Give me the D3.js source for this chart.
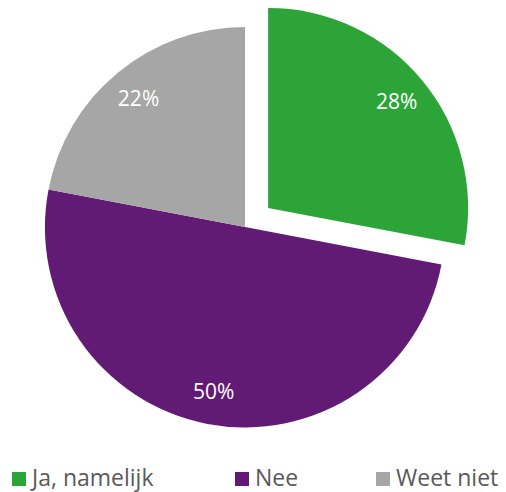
<!DOCTYPE html>
<html>
<head>
<meta charset="utf-8">
<script src="https://cdn.jsdelivr.net/npm/d3@7"></script>
<style>
  body { margin: 0; background: #fff; }
  text { font-family: "Open Sans", sans-serif; }
</style>
</head>
<body>
<div id="chart"></div>
<script>
const categories = ["Ja, namelijk", "Nee", "Weet niet"];
const values = [28, 50, 22];
const colors = ["#2ca437", "#621b74", "#a6a6a6"];
const exploded = [true, false, false];

const width = 506, height = 492;
const cx = 245, cy = 227, radius = 200, explode = 30;

const svg = d3.select("#chart").append("svg")
  .attr("width", width)
  .attr("height", height);

const pie = d3.pie().sort(null).value(d => d);
const arcs = pie(values);
const arc = d3.arc().innerRadius(0).outerRadius(radius);
const labelArc = d3.arc().innerRadius(167).outerRadius(167);

function shift(d, i) {
  if (!exploded[i]) return [0, 0];
  const mid = (d.startAngle + d.endAngle) / 2;
  return [Math.sin(mid) * explode, -Math.cos(mid) * explode];
}

const slices = svg.append("g")
  .attr("transform", `translate(${cx},${cy})`)
  .selectAll("g")
  .data(arcs)
  .enter()
  .append("g")
  .attr("transform", (d, i) => `translate(${shift(d, i)})`);

slices.append("path")
  .attr("d", arc)
  .attr("fill", (d, i) => colors[i]);

slices.append("text")
  .attr("transform", d => `translate(${labelArc.centroid(d)})`)
  .attr("text-anchor", "middle")
  .attr("dy", "0.36em")
  .style("font-size", "21px")
  .style("fill", "#fff")
  .text(d => d.value + "%");

// legend
const legendX = [12, 235, 376];
const legend = svg.append("g")
  .selectAll("g")
  .data(categories)
  .enter()
  .append("g")
  .attr("transform", (d, i) => `translate(${legendX[i]},472)`);

legend.append("rect")
  .attr("width", 14)
  .attr("height", 14)
  .attr("fill", (d, i) => colors[i]);

legend.append("text")
  .attr("x", 20)
  .attr("y", 14)
  .style("font-size", "23px")
  .style("fill", "#595959")
  .text(d => d);
</script>
</body>
</html>
